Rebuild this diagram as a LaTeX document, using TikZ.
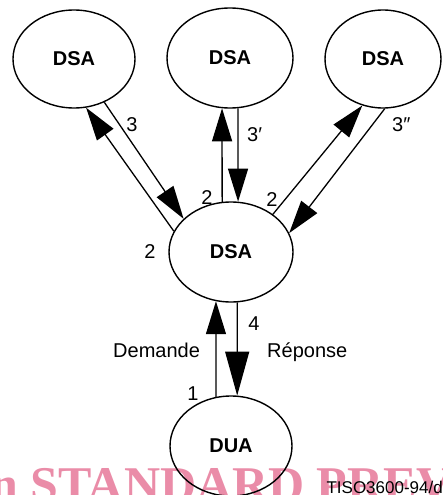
\documentclass[tikz,border=0pt]{standalone}
\usepackage{fontspec}
\setmainfont{Liberation Sans}
\newfontfamily\wmfont{Liberation Serif}
\usetikzlibrary{shapes.geometric,arrows.meta}
\definecolor{wmpink}{RGB}{234,140,168}
\begin{document}
\begin{tikzpicture}[x=1pt,y=-1pt,
  agent/.style={ellipse,draw,line width=1.4pt,inner sep=0pt,
    font=\fontsize{20}{20}\selectfont\bfseries},
  lbl/.style={font=\fontsize{20}{20}\selectfont,inner sep=0pt},
  link/.style={line width=1.3pt,-{Triangle[length=33pt,width=20pt]}},
  biglink/.style={line width=1.3pt,-{Triangle[length=44pt,width=24pt]}}]
\useasboundingbox (0,0) rectangle (442,495);
% watermark
\begin{scope}
\clip (0,0) rectangle (442,495);
\node[anchor=base west,text=wmpink,inner sep=0pt,
  font=\wmfont\bfseries\fontsize{50}{50}\selectfont] (wm) at (-10,501) {n STANDARD PREV};
\end{scope}
% nodes
\node[agent,minimum width=122pt,minimum height=98pt] (L) at (74,59) {DSA};
\node[agent,minimum width=126pt,minimum height=100pt] (M) at (230,58) {DSA};
\node[agent,minimum width=116pt,minimum height=98pt] (R) at (383,59) {DSA};
\node[agent,minimum width=124pt,minimum height=100pt] (C) at (231,252) {DSA};
\node[agent,minimum width=122pt,minimum height=100pt] (U) at (231,446) {DUA};
% connectors
\draw[link] (C.160) -- (L.-76);
\draw[link] (L.-55) -- (C.145);
\draw[link] (C.100) -- (M.261);
\draw[link] (M.279) -- (C.82);
\draw[link] (C.42) -- (R.246);
\draw[link] (R.272) -- (C.18);
\draw[link] (U.107) -- (C.253);
\draw[biglink] (C.277) -- (U.83);
% labels
\node[lbl] (l3) at (132,125) {3};
\node[lbl,anchor=west] (l3p) at (247,135) {3′};
\node[lbl,anchor=west] (l3pp) at (392,125) {3″};
\node[lbl] (l2a) at (207,198) {2};
\node[lbl] (l2b) at (272,200) {2};
\node[lbl] (l2c) at (150,252) {2};
\node[lbl] (l4) at (254,324) {4};
\node[lbl] (l1) at (193,394) {1};
\node[lbl,anchor=base west] (dem) at (113,357) {Demande};
\node[lbl,anchor=base west] (rep) at (267,357) {Réponse};
\node[anchor=base east,inner sep=0pt,font=\fontsize{17}{17}\selectfont] (tiso) at (443,493) {TISO3600-94/d};
\end{tikzpicture}
\end{document}
